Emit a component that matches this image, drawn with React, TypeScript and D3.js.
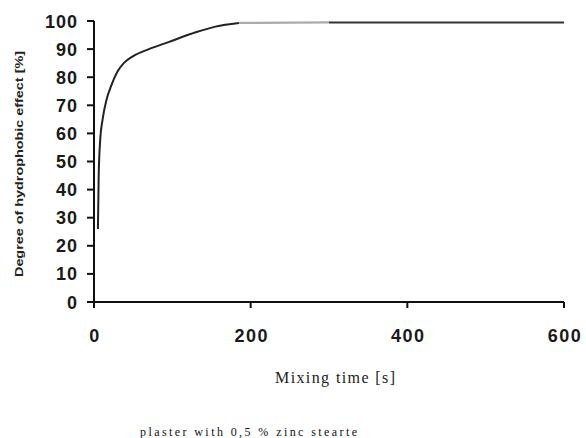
import React from "react";
import * as d3 from "d3";

const times = [5, 6, 8, 11, 16, 22, 30, 38, 50, 70, 95, 130, 155, 185, 300, 600];
const values = [26, 45, 58, 65, 72, 77, 82, 85, 87.5, 90, 92.5, 96, 98, 99.3, 99.5, 99.5];
const xTicks = [0, 200, 400, 600];
const yTicks = [0, 10, 20, 30, 40, 50, 60, 70, 80, 90, 100];
const grayFrom = 185;
const grayTo = 300;

const W = 586, H = 438;

export default function App() {
  const x = d3.scaleLinear().domain([0, 600]).range([94, 564]);
  const y = d3.scaleLinear().domain([0, 100]).range([302, 21]);
  const pts = times.map((t, i) => ({ t, v: values[i] }));
  const line = d3.line<{ t: number; v: number }>().x(d => x(d.t)).y(d => y(d.v)).curve(d3.curveMonotoneX);
  const seg1 = pts.filter(p => p.t <= grayFrom);
  const seg2 = pts.filter(p => p.t >= grayFrom && p.t <= grayTo);
  const seg3 = pts.filter(p => p.t >= grayTo);
  return (
    <svg width={W} height={H} style={{ position: "absolute", left: 0, top: 0, background: "#fff" }}>
      <line x1={x(0)} x2={x(0)} y1={y(100)} y2={y(0) + 1} stroke="#111" strokeWidth={2} />
      <line x1={x(0) - 7} x2={x(600)} y1={y(0)} y2={y(0)} stroke="#111" strokeWidth={2} />
      {yTicks.map(t => (
        <g key={"y" + t}>
          <line x1={x(0) - 7} x2={x(0)} y1={y(t)} y2={y(t)} stroke="#111" strokeWidth={2} />
          <text x={78} y={y(t) + 6.5} textAnchor="end" fontFamily="Liberation Sans, Arial, sans-serif" fontWeight="bold" fontSize={18} letterSpacing={1} fill="#1a1a1a">{t}</text>
        </g>
      ))}
      {xTicks.map(t => (
        <g key={"x" + t}>
          <line x1={x(t)} x2={x(t)} y1={y(0)} y2={y(0) + 6} stroke="#111" strokeWidth={2} />
          <text x={x(t) + 1} y={342} textAnchor="middle" fontFamily="Liberation Sans, Arial, sans-serif" fontWeight="bold" fontSize={18} letterSpacing={1.5} fill="#1a1a1a">{t}</text>
        </g>
      ))}
      <path d={line(seg1) || ""} fill="none" stroke="#222" strokeWidth={2} />
      <path d={line(seg2) || ""} fill="none" stroke="#aaa" strokeWidth={2.2} />
      <path d={line(seg3) || ""} fill="none" stroke="#333" strokeWidth={2} />
      <text x={335} y={383} textAnchor="middle" fontFamily="Liberation Serif, Times New Roman, serif" fontSize={16} textLength={120} lengthAdjust="spacing" fill="#222">Mixing time [s]</text>
      <text transform="translate(23,164) rotate(-90)" textAnchor="middle" fontFamily="Liberation Sans, Arial, sans-serif" fontWeight="bold" fontSize={11} textLength={226} lengthAdjust="spacingAndGlyphs" fill="#222">Degree of hydrophobic effect [%]</text>
      <text x={140} y={436} fontFamily="Liberation Serif, Times New Roman, serif" fontSize={12} textLength={217} lengthAdjust="spacing" fill="#111">plaster with 0,5 % zinc stearte</text>
    </svg>
  );
}
